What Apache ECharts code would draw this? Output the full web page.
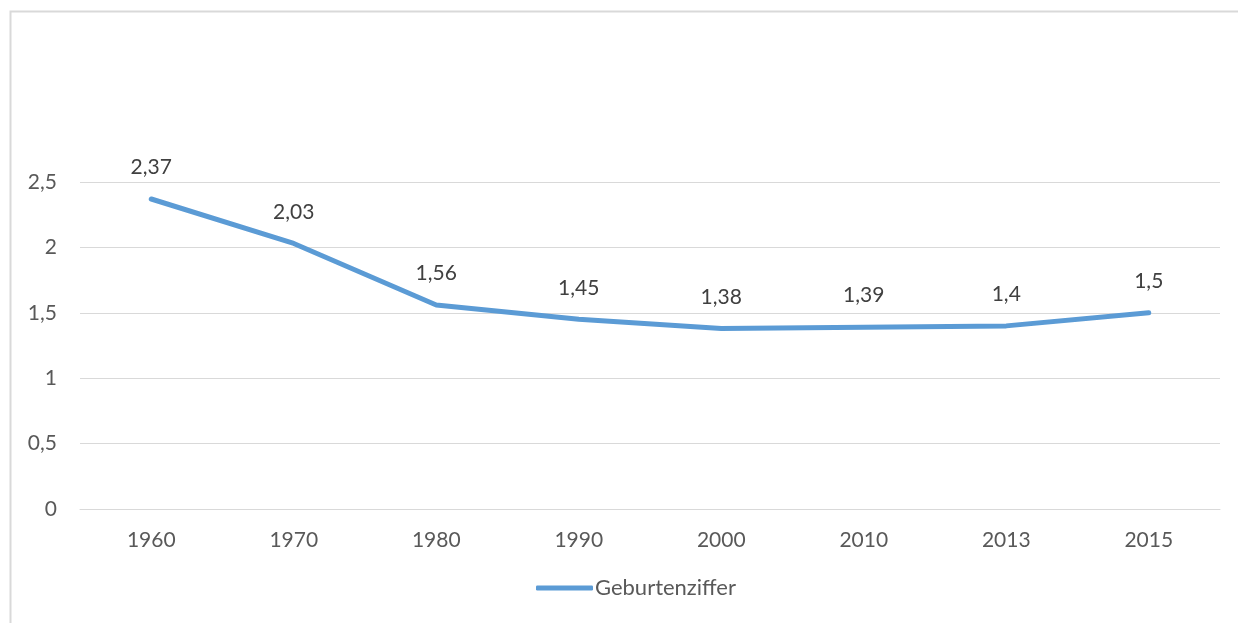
<!DOCTYPE html>
<html>
<head>
<meta charset="utf-8">
<style>
	html, body { margin: 0; padding: 0; background: #fff; }
	#chart { width: 1238px; height: 623px; }
</style>
</head>
<body>
<div id="chart"></div>
<script src="https://cdn.jsdelivr.net/npm/echarts@6/dist/echarts.min.js"></script>
<script>
	var years = ['1960', '1970', '1980', '1990', '2000', '2010', '2013', '2015'];
	var rates = [2.37, 2.03, 1.56, 1.45, 1.38, 1.39, 1.4, 1.5];
	var seriesName = 'Geburtenziffer';

	function comma(v) {
		return String(v).replace('.', ',');
	}

	var myChart = echarts.init(document.getElementById('chart'));
	var option = {
		textStyle: { fontFamily: 'Lato' },
		graphic: [{
			type: 'rect',
			silent: true,
			shape: { x: 10.5, y: 11.5, width: 1260, height: 640 },
			style: { fill: 'none', stroke: '#d9d9d9', lineWidth: 2 }
		}],
		grid: { left: 80, right: 18, top: 182, bottom: 114 },
		legend: {
			bottom: 19,
			left: 531,
			icon: 'roundRect',
			itemWidth: 57,
			itemHeight: 5,
			itemGap: 4,
			textStyle: { fontSize: 22, color: '#595959', padding: [0, 0, 0, -3] },
			data: [seriesName]
		},
		xAxis: {
			type: 'category',
			data: years,
			axisLine: { lineStyle: { color: '#d9d9d9', width: 1 } },
			axisTick: { show: false },
			axisLabel: { fontSize: 21, color: '#595959', margin: 21 }
		},
		yAxis: {
			type: 'value',
			min: 0,
			max: 2.5,
			interval: 0.5,
			axisLine: { show: false },
			axisTick: { show: false },
			splitLine: { lineStyle: { color: '#d9d9d9', width: 1 } },
			axisLabel: {
				fontSize: 21, color: '#595959', margin: 23,
				formatter: function (v) { return comma(v); }
			}
		},
		series: [{
			name: seriesName,
			type: 'line',
			data: rates,
			symbol: 'circle',
			symbolSize: 0.1,
			lineStyle: { color: '#5b9bd5', width: 5, cap: 'round', join: 'round' },
			itemStyle: { color: '#5b9bd5' },
			label: {
				show: true,
				position: 'top',
				distance: 21,
				fontSize: 21,
				color: '#404040',
				formatter: function (p) { return comma(p.value); }
			}
		}]
	};
	myChart.setOption(option);
</script>
</body>
</html>
